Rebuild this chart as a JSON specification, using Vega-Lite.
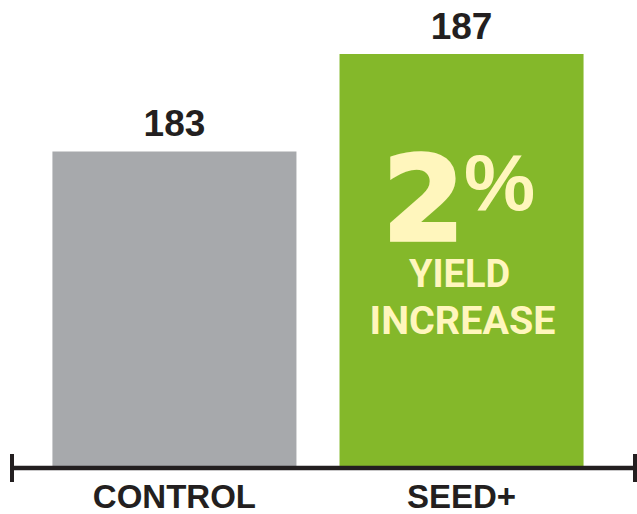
{
  "$schema": "https://vega.github.io/schema/vega-lite/v6.json",
  "width": 623,
  "height": 482,
  "autosize": {"type": "none"},
  "padding": {"left": 12, "right": 2, "top": 0, "bottom": 32},
  "background": "white",
  "config": {"view": {"stroke": null}},
  "resolve": {"scale": {"x": "independent"}},
  "layer": [
    {
      "data": {"values": [{"group": "CONTROL", "value": 183}, {"group": "SEED+", "value": 187}]},
      "layer": [
        {
          "mark": {"type": "bar"},
          "encoding": {
            "x": {"field": "group", "type": "nominal", "sort": null,
              "scale": {"domain": ["CONTROL", "SEED+"], "paddingInner": 0.15, "paddingOuter": 0.16, "align": 0.44},
              "axis": {"title": null, "domain": false, "ticks": false, "tickSize": 0, "labelAngle": 0,
                "labelFont": "Liberation Sans", "labelFontWeight": "bold", "labelFontSize": 33,
                "labelColor": "#231f20", "labelBaseline": "alphabetic", "labelPadding": 25}},
            "y": {"field": "value", "type": "quantitative",
              "scale": {"domain": [169.425, 189.22], "nice": false, "zero": false}, "axis": null},
            "y2": {"datum": 170},
            "color": {"field": "group", "type": "nominal",
              "scale": {"domain": ["CONTROL", "SEED+"], "range": ["#a7a9ac", "#84b82a"]}, "legend": null}
          }
        },
        {
          "mark": {"type": "text", "font": "Liberation Sans", "fontWeight": "bold", "fontSize": 37,
            "color": "#231f20", "baseline": "alphabetic", "dy": -15},
          "encoding": {
            "x": {"field": "group", "type": "nominal", "sort": null},
            "y": {"field": "value", "type": "quantitative"},
            "text": {"field": "value", "type": "quantitative"}
          }
        },
        {
          "data": {"values": [{"group": "SEED+", "text": "2"}]},
          "mark": {"type": "text", "font": "DejaVu Sans", "fontWeight": "bold", "fontSize": 118,
            "color": "#fff6bd", "stroke": "#fff6bd", "strokeWidth": 3.5, "strokeJoin": "miter",
            "baseline": "alphabetic", "align": "center", "dx": -38, "dy": -1.5},
          "encoding": {
            "x": {"field": "group", "type": "nominal"},
            "y": {"datum": 179.294},
            "text": {"field": "text", "type": "nominal"}
          }
        },
        {
          "data": {"values": [{"group": "SEED+", "text": "%"}]},
          "mark": {"type": "text", "font": "Liberation Sans", "fontWeight": "bold", "fontSize": 80,
            "color": "#fff6bd", "baseline": "alphabetic", "align": "center", "dx": 38},
          "encoding": {
            "x": {"field": "group", "type": "nominal"},
            "y": {"datum": 180.595},
            "text": {"field": "text", "type": "nominal"}
          }
        },
        {
          "data": {"values": [{"group": "SEED+", "text": "YIELD"}]},
          "mark": {"type": "text", "font": "Roboto", "fontWeight": "bold", "fontSize": 38,
            "color": "#fff6bd", "baseline": "alphabetic", "align": "center", "dx": -2},
          "encoding": {
            "x": {"field": "group", "type": "nominal"},
            "y": {"datum": 177.446},
            "text": {"field": "text", "type": "nominal"}
          }
        },
        {
          "data": {"values": [{"group": "SEED+", "text": "INCREASE"}]},
          "mark": {"type": "text", "font": "Roboto", "fontWeight": "bold", "fontSize": 39.5,
            "color": "#fff6bd", "baseline": "alphabetic", "align": "center", "dx": 1},
          "encoding": {
            "x": {"field": "group", "type": "nominal"},
            "y": {"datum": 175.503},
            "text": {"field": "text", "type": "nominal"}
          }
        }
      ]
    },
    {
      "data": {"values": [{}]},
      "mark": {"type": "rule", "color": "#231f20", "strokeWidth": 4.5},
      "encoding": {"y": {"datum": 170}}
    },
    {
      "data": {"values": [{"end": 0}, {"end": 1}]},
      "mark": {"type": "rule", "color": "#231f20", "strokeWidth": 4},
      "encoding": {
        "x": {"field": "end", "type": "quantitative", "scale": {"domain": [0, 1], "nice": false, "zero": false}, "axis": null},
        "y": {"datum": 169.425},
        "y2": {"datum": 170.575}
      }
    }
  ]
}
